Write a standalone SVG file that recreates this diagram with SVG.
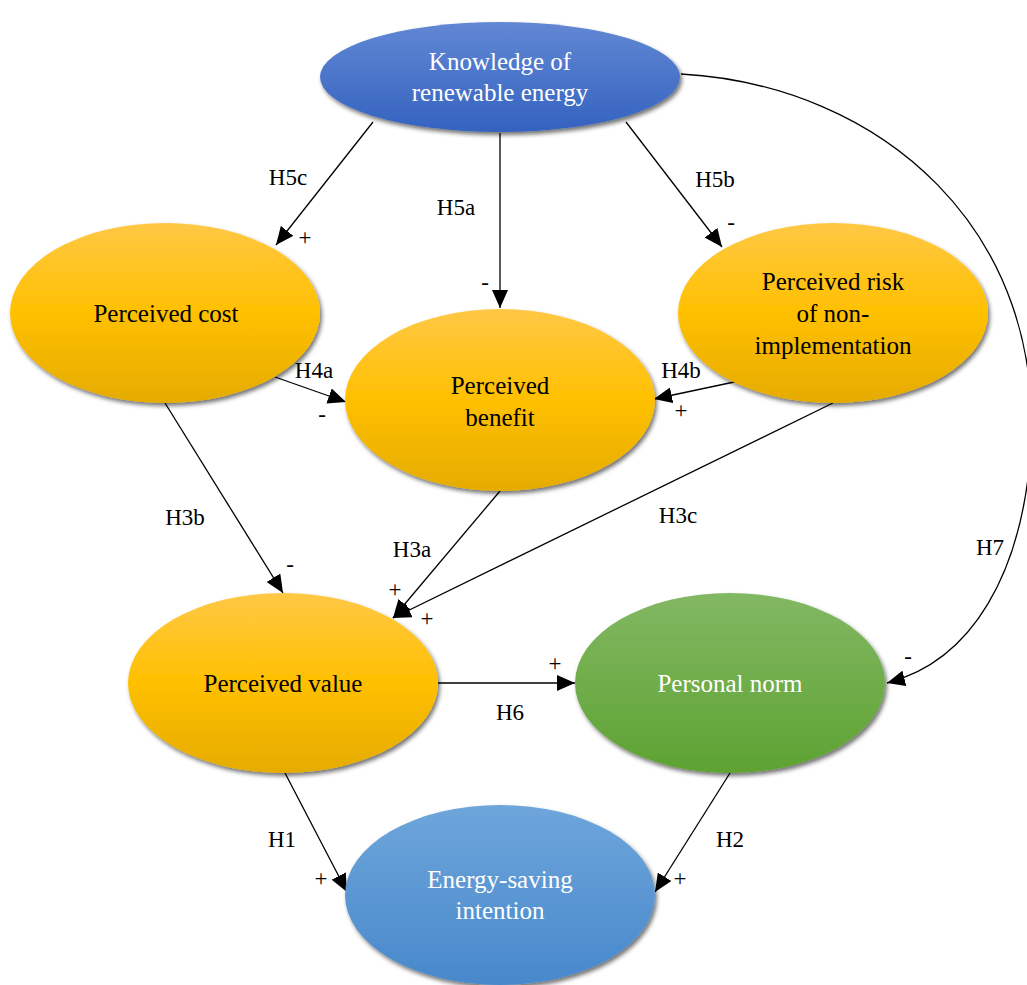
<svg xmlns="http://www.w3.org/2000/svg" width="1027" height="985" viewBox="0 0 1027 985">
<defs>
<linearGradient id="gOr" x1="0" y1="0" x2="0" y2="1"><stop offset="0" stop-color="#FFC845"/><stop offset="0.5" stop-color="#FFC000"/><stop offset="1" stop-color="#E5AB00"/></linearGradient>
<linearGradient id="gBl" x1="0" y1="0" x2="0" y2="1"><stop offset="0" stop-color="#6288D4"/><stop offset="1" stop-color="#3462BF"/></linearGradient>
<linearGradient id="gGr" x1="0" y1="0" x2="0" y2="1"><stop offset="0" stop-color="#82B863"/><stop offset="1" stop-color="#5EA232"/></linearGradient>
<linearGradient id="gLb" x1="0" y1="0" x2="0" y2="1"><stop offset="0" stop-color="#6EA6DB"/><stop offset="1" stop-color="#4888CB"/></linearGradient>
<filter id="sh" x="-10%" y="-10%" width="125%" height="130%"><feDropShadow dx="2" dy="3" stdDeviation="2" flood-color="#000" flood-opacity="0.55"/></filter>
<marker id="ar" markerUnits="userSpaceOnUse" markerWidth="20" markerHeight="16" refX="18" refY="8" orient="auto"><path d="M0,0 L18,8 L0,16 z" fill="#000"/></marker>
<style>
text{font-family:"Times New Roman",Times,"Liberation Serif","DejaVu Serif","Noto Serif",serif}
.t{font-size:25px;text-anchor:middle;fill:#000}
.w{fill:#fff}
.l{font-size:23px;text-anchor:middle;fill:#000}
.c{stroke:#000;stroke-width:1.3;fill:none;marker-end:url(#ar)}
</style>
</defs>
<g id="connectors">
<line class="c" x1="373" y1="122" x2="276" y2="245"/>
<line class="c" x1="500" y1="133" x2="500" y2="308"/>
<line class="c" x1="626" y1="122" x2="722" y2="247"/>
<line class="c" x1="275" y1="377" x2="346" y2="402"/>
<line class="c" x1="753" y1="378" x2="654" y2="399"/>
<line class="c" x1="165" y1="403" x2="283" y2="593"/>
<line class="c" x1="500" y1="491" x2="393" y2="618"/>
<line class="c" x1="833" y1="403" x2="393" y2="618"/>
<line class="c" x1="438" y1="683" x2="575" y2="683"/>
<line class="c" x1="285" y1="773" x2="347" y2="892"/>
<line class="c" x1="730" y1="773" x2="655" y2="892"/>
<path class="c" d="M681,74 C880,85 1050,230 1030,460 C1020,570 975,660 887,683"/>
</g>
<g id="n-knowledge"><ellipse cx="500" cy="77" rx="180" ry="55" fill="url(#gBl)" filter="url(#sh)"/><text class="t w" x="500" y="70">Knowledge of</text><text class="t w" x="500" y="101">renewable energy</text></g>
<g id="n-cost"><ellipse cx="165" cy="313" rx="155" ry="90" fill="url(#gOr)" filter="url(#sh)"/><text class="t" x="166" y="322">Perceived cost</text></g>
<g id="n-risk"><ellipse cx="833" cy="313" rx="155" ry="90" fill="url(#gOr)" filter="url(#sh)"/><text class="t" x="833" y="290">Perceived risk</text><text class="t" x="833" y="322">of non-</text><text class="t" x="833" y="354">implementation</text></g>
<g id="n-benefit"><ellipse cx="500" cy="400" rx="155" ry="91" fill="url(#gOr)" filter="url(#sh)"/><text class="t" x="500" y="394">Perceived</text><text class="t" x="500" y="426">benefit</text></g>
<g id="n-value"><ellipse cx="283" cy="683" rx="155" ry="90" fill="url(#gOr)" filter="url(#sh)"/><text class="t" x="283" y="692">Perceived value</text></g>
<g id="n-norm"><ellipse cx="730" cy="683" rx="155" ry="90" fill="url(#gGr)" filter="url(#sh)"/><text class="t w" x="730" y="692">Personal norm</text></g>
<g id="n-intention"><ellipse cx="500" cy="895" rx="155" ry="90" fill="url(#gLb)" filter="url(#sh)"/><text class="t w" x="500" y="888">Energy-saving</text><text class="t w" x="500" y="919">intention</text></g>
<g id="labels">
<text class="l" x="288" y="185">H5c</text><text class="l" x="305" y="245">+</text>
<text class="l" x="456" y="215">H5a</text><text class="l" x="485" y="290">-</text>
<text class="l" x="715" y="187">H5b</text><text class="l" x="731" y="230">-</text>
<text class="l" x="314" y="378">H4a</text><text class="l" x="322" y="422">-</text>
<text class="l" x="681" y="378">H4b</text><text class="l" x="681" y="418">+</text>
<text class="l" x="185" y="525">H3b</text><text class="l" x="290" y="572">-</text>
<text class="l" x="412" y="557">H3a</text><text class="l" x="395" y="597">+</text><text class="l" x="427" y="626">+</text>
<text class="l" x="678" y="523">H3c</text>
<text class="l" x="990" y="555">H7</text><text class="l" x="908" y="664">-</text>
<text class="l" x="510" y="720">H6</text><text class="l" x="555" y="671">+</text>
<text class="l" x="282" y="847">H1</text><text class="l" x="321" y="886">+</text>
<text class="l" x="730" y="847">H2</text><text class="l" x="680" y="886">+</text>
</g>
</svg>
